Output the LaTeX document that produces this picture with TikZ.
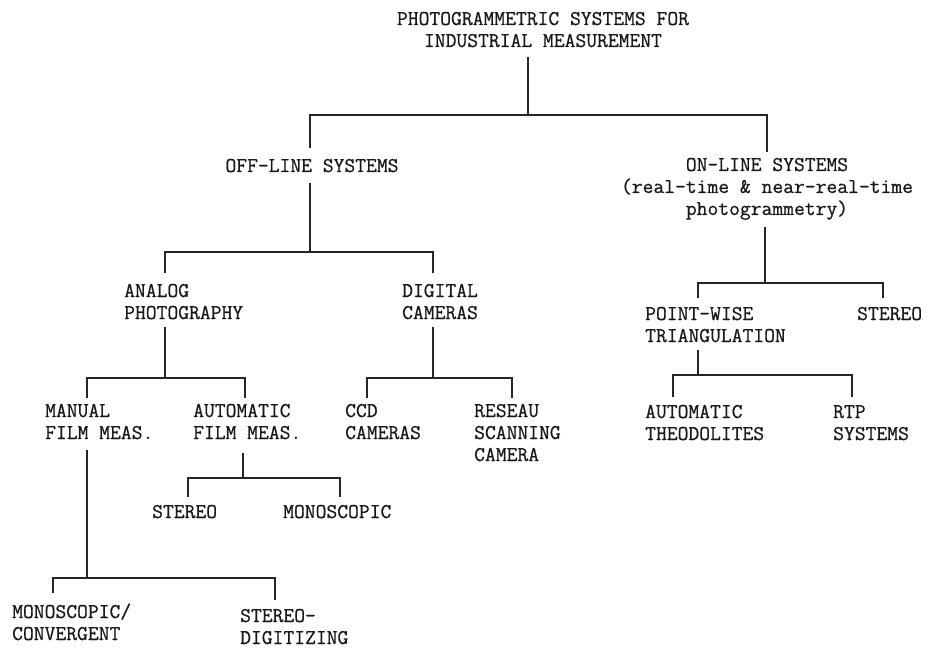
\documentclass[tikz,border=0pt]{standalone}
\usepackage{fontspec}
\newfontfamily\typew{lmmono12-regular.otf}[FakeBold=0.7]
\newcommand\linesL[1]{\vtop{\baselineskip=22pt\lineskiplimit=-100pt\halign{##\hfil\cr#1\crcr}}}
\newcommand\linesC[1]{\vtop{\baselineskip=22pt\lineskiplimit=-100pt\halign{\hfil##\hfil\cr#1\crcr}}}
\tikzset{
  lbl/.style={inner sep=0pt, font=\typew\fontsize{21}{22}\selectfont, anchor=base west, text=black!90},
  lblc/.style={lbl, anchor=base},
  conn/.style={line width=1.1pt, draw=black!85}
}
\begin{document}
\begin{tikzpicture}[x=1pt,y=-1pt]
\useasboundingbox (0,0) rectangle (927,650);
% labels
\node[lblc] (title) at (543,25) {\linesC{PHOTOGRAMMETRIC SYSTEMS FOR\cr INDUSTRIAL MEASUREMENT}};
\node[lblc] (off) at (312,172) {\linesC{OFF-LINE SYSTEMS}};
\node[lblc] (on) at (767,171) {\linesC{ON-LINE SYSTEMS\cr (real-time \& near-real-time\cr photogrammetry)}};
\node[lbl] (analog) at (124,297) {\linesL{ANALOG\cr PHOTOGRAPHY}};
\node[lbl] (digital) at (402,297) {\linesL{DIGITAL\cr CAMERAS}};
\node[lbl] (manual) at (45,417) {\linesL{MANUAL\cr FILM MEAS.}};
\node[lbl] (autofilm) at (193,417) {\linesL{AUTOMATIC\cr FILM MEAS.}};
\node[lbl] (ccd) at (345,417) {\linesL{CCD\cr CAMERAS}};
\node[lbl] (reseau) at (474,417) {\linesL{RESEAU\cr SCANNING\cr CAMERA}};
\node[lbl] (pointwise) at (645,320) {\linesL{POINT-WISE\cr TRIANGULATION}};
\node[lbl] (stereoon) at (857,320) {\linesL{STEREO}};
\node[lbl] (autotheo) at (645,418) {\linesL{AUTOMATIC\cr THEODOLITES}};
\node[lbl] (rtp) at (833,418) {\linesL{RTP\cr SYSTEMS}};
\node[lbl] (stereoaf) at (152,518) {\linesL{STEREO}};
\node[lbl] (monoaf) at (283,518) {\linesL{MONOSCOPIC}};
\node[lbl] (monoconv) at (12,618) {\linesL{MONOSCOPIC/\cr CONVERGENT}};
\node[lbl] (stereodig) at (240,622) {\linesL{STEREO-\cr DIGITIZING}};
% junction coordinates
\coordinate (tS) at (528,57);   \coordinate (tJ) at (528,115);
\coordinate (offT) at (310,148); \coordinate (onT) at (767,152);
\coordinate (offS) at (310,183); \coordinate (offJ) at (310,252);
\coordinate (anT) at (165,273);  \coordinate (diT) at (433,273);
\coordinate (anS) at (165,327);  \coordinate (anJ) at (165,378);
\coordinate (maT) at (87,398);   \coordinate (afT) at (245,398);
\coordinate (diS) at (433,327);  \coordinate (diJ) at (433,378);
\coordinate (ccT) at (367,398);  \coordinate (reT) at (512,398);
\coordinate (afS) at (243,453);  \coordinate (afJ) at (243,478);
\coordinate (saT) at (188,497);  \coordinate (moT) at (340,497);
\coordinate (maS) at (87,450);   \coordinate (maJ) at (87,578);
\coordinate (mcT) at (53,593);   \coordinate (sdT) at (275,600);
\coordinate (onS) at (765,227);  \coordinate (onJ) at (765,283);
\coordinate (pwT) at (698,298);  \coordinate (soT) at (883,298);
\coordinate (pwS) at (698,350);  \coordinate (pwJ) at (698,375);
\coordinate (atT) at (673,397);  \coordinate (rtT) at (852,397);
% connectors
\draw[conn] (tS) -- (tJ);   \draw[conn] (offT) |- (tJ) -| (onT);
\draw[conn] (offS) -- (offJ); \draw[conn] (anT) |- (offJ) -| (diT);
\draw[conn] (anS) -- (anJ); \draw[conn] (maT) |- (anJ) -| (afT);
\draw[conn] (diS) -- (diJ); \draw[conn] (ccT) |- (diJ) -| (reT);
\draw[conn] (afS) -- (afJ); \draw[conn] (saT) |- (afJ) -| (moT);
\draw[conn] (maS) -- (maJ); \draw[conn] (mcT) |- (maJ) -| (sdT);
\draw[conn] (onS) -- (onJ); \draw[conn] (pwT) |- (onJ) -| (soT);
\draw[conn] (pwS) -- (pwJ); \draw[conn] (atT) |- (pwJ) -| (rtT);
\end{tikzpicture}
\end{document}
